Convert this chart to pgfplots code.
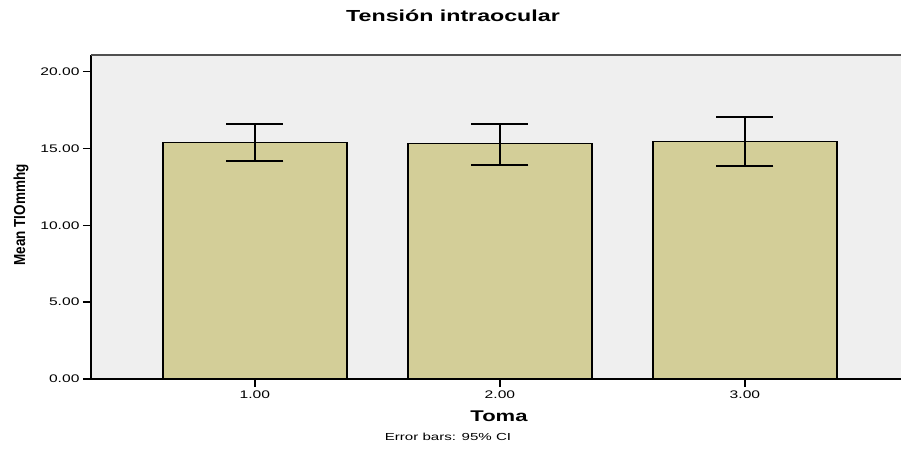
\documentclass[border=0pt]{standalone}
\usepackage{pgfplots}
\pgfplotsset{compat=1.18}
\usepackage{graphicx}
\usepackage{fontspec}
\setmainfont{Liberation Sans}
\definecolor{bgc}{RGB}{239,239,239}
\definecolor{barc}{RGB}{211,206,152}
\definecolor{topc}{RGB}{80,80,80}
\newcommand{\sx}[1]{\scalebox{1.42}[1]{#1}}
\begin{document}
\begin{tikzpicture}[x=1pt,y=1pt]
\useasboundingbox (0,0) rectangle (901,454);
\begin{axis}[
  at={(91pt,75pt)}, anchor=south west,
  scale only axis, width=810pt, height=324pt,
  xmin=0.331, xmax=3.637, ymin=0, ymax=21.07,
  axis background/.style={fill=bgc},
  axis line style={draw=none},
  tick align=outside, tick pos=left,
  major tick length=8pt,
  tick style={black, line width=1.4pt},
  xtick={1,2,3},
  xticklabels={\sx{1.00},\sx{2.00},\sx{3.00}},
  ytick={0,5,10,15,20},
  yticklabels={\sx{0.00},\sx{5.00},\sx{10.00},\sx{15.00},\sx{20.00}},
  tick label style={font=\fontsize{11}{13}\selectfont},
  ybar, bar width=0.751, bar shift=0pt,
  clip=false,
]
\addplot[fill=barc, draw=black, line width=1.2pt,
  error bars/.cd, y dir=both, y explicit,
  error bar style={line width=2pt, black},
  error mark options={rotate=90, mark size=28.5pt, line width=2pt, black}]
  coordinates {
    (1,15.36) += (0,1.19) -= (0,1.20)
    (2,15.29) += (0,1.30) -= (0,1.35)
    (3,15.44) += (0,1.58) -= (0,1.61)
  };
\draw[line width=1.5pt, black] (rel axis cs:0,1) -- (rel axis cs:0,0) -- (rel axis cs:1,0);
\draw[line width=1.3pt, topc] (rel axis cs:0,1) -- (rel axis cs:1,1);
\end{axis}
\node[anchor=base] at (453,432) {\fontsize{16}{19}\selectfont\bfseries\scalebox{1.45}[1]{Tensión intraocular}};
\node[anchor=base] at (499,32.3) {\fontsize{15.5}{18}\selectfont\bfseries\sx{Toma}};
\node[anchor=base] at (448,13.8) {\fontsize{10.2}{12}\selectfont\scalebox{1.48}[1]{Error bars: 95\% CI}};
\node[anchor=base, rotate=90] at (25,239) {\fontsize{13.5}{16}\selectfont\bfseries\scalebox{1}[1.18]{Mean TIOmmhg}};
\end{tikzpicture}
\end{document}
